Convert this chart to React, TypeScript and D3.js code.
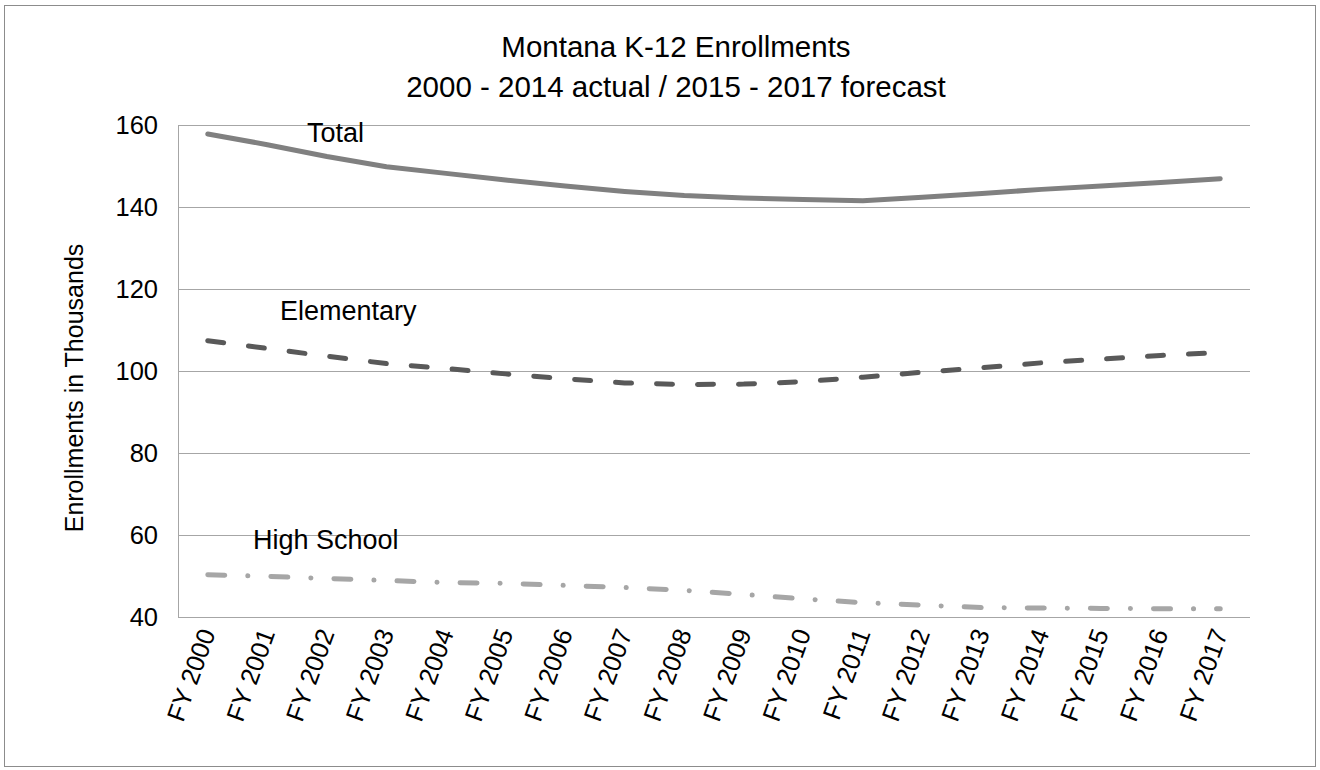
import React from "react";
import * as d3 from "d3";

// Fiscal years on the category axis
const years = [
  "FY 2000", "FY 2001", "FY 2002", "FY 2003", "FY 2004", "FY 2005",
  "FY 2006", "FY 2007", "FY 2008", "FY 2009", "FY 2010", "FY 2011",
  "FY 2012", "FY 2013", "FY 2014", "FY 2015", "FY 2016", "FY 2017",
];

// Enrollments in thousands
const total = [
  157.8, 155.2, 152.3, 149.8, 148.2, 146.6, 145.1, 143.8, 142.8,
  142.2, 141.8, 141.5, 142.4, 143.3, 144.3, 145.1, 146.0, 146.9,
];
const elementary = [
  107.4, 105.5, 103.6, 101.8, 100.6, 99.3, 98.1, 97.1, 96.7,
  96.8, 97.4, 98.5, 99.7, 100.8, 102.0, 102.9, 103.8, 104.5,
];
const highSchool = [
  50.3, 49.9, 49.4, 48.9, 48.4, 48.2, 47.7, 47.2, 46.5,
  45.5, 44.4, 43.5, 42.9, 42.3, 42.2, 42.1, 42.0, 42.0,
];

const yTicks = [40, 60, 80, 100, 120, 140, 160];

const W = 1320;
const H = 770;
const left = 178;
const right = 1250;
const top = 125;
const bottom = 617;
const font = "'Liberation Sans', Arial, sans-serif";

export default function App() {
  const x = d3.scaleBand<string>().domain(years).range([left, right]);
  const y = d3.scaleLinear().domain([40, 160]).range([bottom, top]);
  const cx = (d: string) => (x(d) as number) + x.bandwidth() / 2;

  const line = d3
    .line<number>()
    .x((_, i) => cx(years[i]))
    .y((v) => y(v));

  const series = [
    { name: "Total", values: total, color: "#808080", dash: undefined as string | undefined, lx: 307, ly: 142 },
    { name: "Elementary", values: elementary, color: "#595959", dash: "16 25", lx: 280, ly: 320 },
    { name: "High School", values: highSchool, color: "#A6A6A6", dash: "17 23 0.1 23", lx: 253, ly: 549 },
  ];

  return (
    <div style={{ position: "absolute", left: 0, top: 0 }}>
      <svg width={W} height={H} style={{ display: "block", background: "#fff" }} fontFamily={font}>
        <rect x={4.5} y={5.5} width={1311} height={761} fill="#fff" stroke="#8c8c8c" strokeWidth={1} />

        <text x={676} y={57} textAnchor="middle" fontSize={29.5} fill="#000">
          Montana K-12 Enrollments
        </text>
        <text x={676} y={97} textAnchor="middle" fontSize={29.5} fill="#000">
          2000 - 2014 actual / 2015 - 2017 forecast
        </text>

        {/* horizontal gridlines */}
        {yTicks.map((t) => (
          <line key={t} x1={left} x2={right} y1={Math.round(y(t)) + 0.5} y2={Math.round(y(t)) + 0.5} stroke="#a6a6a6" strokeWidth={1} />
        ))}
        <line x1={left + 0.5} x2={left + 0.5} y1={top} y2={bottom + 0.5} stroke="#a6a6a6" strokeWidth={1} />

        {yTicks.map((t) => (
          <text key={t} x={158} y={y(t) + 8.5} textAnchor="end" fontSize={25.5} fill="#000">
            {t}
          </text>
        ))}

        <text transform={`translate(83,388) rotate(-90)`} textAnchor="middle" fontSize={25} fill="#000">
          Enrollments in Thousands
        </text>

        {years.map((d) => (
          <text key={d} transform={`translate(${cx(d) + 8},${bottom + 16}) rotate(-70)`} textAnchor="end" fontSize={25.5} fill="#000">
            {d}
          </text>
        ))}

        {series.map((s) => (
          <path key={s.name} d={line(s.values) || ""} fill="none" stroke={s.color} strokeWidth={5}
            strokeDasharray={s.dash} strokeLinecap="round" strokeLinejoin="round" />
        ))}

        {series.map((s) => (
          <text key={s.name + "-label"} x={s.lx} y={s.ly} fontSize={27} fill="#000">
            {s.name}
          </text>
        ))}
      </svg>
    </div>
  );
}
